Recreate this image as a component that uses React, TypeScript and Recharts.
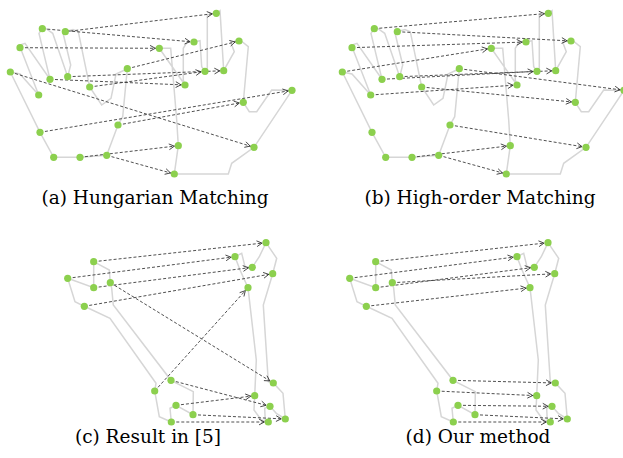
import { ScatterChart, Scatter, XAxis, YAxis } from "recharts";

type Pt = [number, number];

// top row: the same two hands in (a) and (b), only the matching differs
const topSource: Pt[] = [
  [42.3, 28.7], [65.3, 31.7], [20, 47.7], [10.3, 72], [50, 79.3], [67.7, 76.7], [38.7, 95],
  [89.7, 87], [127.3, 68.7], [118, 125], [40, 132.3], [53.7, 157.3], [80, 157.3], [106.7, 155.3],
];
const topTarget: Pt[] = [
  [216.3, 13.3], [194, 42], [159.3, 48.3], [239, 41], [205, 71.3], [223.7, 70.7],
  [185, 85], [292, 90.3], [243.3, 102.3], [178.3, 145.7], [254, 147.3], [174.3, 174],
];
const topSourceOutline: Pt[] = [
  [10.3, 72], [40, 132.3], [53.7, 157.3], [80, 157.3], [106.7, 155.3], [118, 125], [122.7, 116.7],
  [127.3, 68.7], [116, 74], [111, 98.3], [101.7, 105], [89.7, 87], [78.3, 31.7], [73, 29.5],
  [65.3, 31.7], [63.5, 35], [70.7, 65], [67.7, 76.7], [52.7, 33.3], [45, 28], [42.3, 28.7],
  [39, 33.3], [50, 79.3], [25, 43.3], [20, 45], [20, 47.7], [22, 52], [38.7, 95], [20, 74], [10.3, 72],
];
const topTargetOutline: Pt[] = [
  [159.3, 48.3], [170.7, 48.3], [176.7, 120], [178.3, 145.7], [174.3, 174], [228.3, 174],
  [231.7, 163.3], [254, 147.3], [292, 90.3], [271.7, 90], [256.7, 111.7], [249.3, 111.7],
  [243.3, 102.3], [248.3, 46.7], [240, 40], [230.7, 42.3], [234.3, 51.7], [223.7, 70.7],
  [220, 10.7], [216.3, 13.3], [207.3, 15], [207.3, 68.3], [205, 71.3], [201.7, 66.7],
  [200, 40.7], [194, 42], [187.3, 41.7], [183.3, 48.3], [183.3, 80], [185, 85], [159.3, 48.3],
];

// bottom row
const bottomSource: Pt[] = [
  [93.7, 261.7], [67.7, 278.3], [93.7, 287.7], [110.3, 282.7], [84.3, 306.3],
  [154.7, 391], [171, 380.3], [176, 405.3], [193, 414.7], [171.3, 422],
];
const bottomTarget: Pt[] = [
  [266, 242.7], [235, 256.7], [252.3, 267.3], [272.7, 273.7], [248, 287.7],
  [273.3, 383], [254.7, 395.7], [270, 406.3], [285.3, 419], [268.3, 422],
];
const bottomSourceOutline: Pt[] = [
  [67.7, 278.3], [75, 301.7], [84.3, 306.3], [110, 318.3], [156, 383.3], [154.7, 391],
  [159.3, 416.7], [171.3, 422], [170, 408.3], [176, 405.3], [193, 414.7], [193.3, 391.7],
  [171, 380.3], [113.3, 305], [111.7, 288.3], [110.3, 282.7], [109.3, 270], [93.7, 261.7],
  [93.7, 287.7], [67.7, 278.3],
];
const bottomTargetOutline: Pt[] = [
  [235, 256.7], [241.7, 253.3], [245, 266.7], [252.3, 267.3], [259.3, 256.7], [266, 242.7],
  [276.7, 258.3], [272.7, 273.7], [263.3, 305], [268.3, 381.7], [273.3, 383], [283, 393.3],
  [285.3, 419], [276.3, 413.3], [270, 406.3], [264.7, 408.3], [265.3, 421.7], [268.3, 422],
  [261.3, 420], [254, 410], [254.7, 395.7], [256.3, 360], [248, 287.7], [240, 270], [235, 256.7],
];

// [source index, target index]
const matchA: Pt[] = [[0, 1], [1, 0], [2, 2], [3, 10], [4, 6], [5, 5], [7, 4], [8, 3], [9, 8], [10, 7], [12, 9], [13, 11]];
const matchB: Pt[] = [[0, 0], [1, 3], [2, 1], [3, 2], [4, 4], [5, 5], [6, 6], [7, 8], [8, 7], [9, 10], [12, 9], [13, 11]];
const matchC: Pt[] = [[0, 0], [1, 1], [2, 2], [3, 5], [4, 3], [5, 4], [6, 7], [7, 6], [8, 8], [9, 9]];
const matchD: Pt[] = [[0, 0], [1, 1], [2, 2], [3, 3], [4, 4], [5, 6], [6, 5], [7, 7], [8, 8], [9, 9]];

const captions = ["(a) Hungarian Matching", "(b) High-order Matching", "(c) Result in [5]", "(d) Our method"];

const xy = (p: Pt) => ({ x: p[0], y: p[1] });

function ArrowHead(props: any) {
  const { cx, cy, payload } = props;
  if (payload == null || payload.fromX === undefined) return <g />;
  // 1 unit = 1 px on both axes, so the data direction is the pixel direction
  const ang = Math.atan2(payload.y - payload.fromY, payload.x - payload.fromX);
  const tx = cx - 4 * Math.cos(ang);
  const ty = cy - 4 * Math.sin(ang);
  const w1 = [tx - 6 * Math.cos(ang - 0.5), ty - 6 * Math.sin(ang - 0.5)];
  const w2 = [tx - 6 * Math.cos(ang + 0.5), ty - 6 * Math.sin(ang + 0.5)];
  return (
    <polyline
      points={`${w1[0]},${w1[1]} ${tx},${ty} ${w2[0]},${w2[1]}`}
      fill="none"
      stroke="#333"
      strokeWidth={0.9}
    />
  );
}

const Dot = (p: any) => <circle cx={p.cx} cy={p.cy} r={3.6} fill="#8cd04e" />;

type PanelProps = {
  source: Pt[];
  target: Pt[];
  outlines: Pt[][];
  matches: Pt[];
  left: number;
  top: number;
  width: number;
  height: number;
};

function Panel({ source, target, outlines, matches, left, top, width, height }: PanelProps) {
  return (
    <div style={{ position: "absolute", left, top }}>
      <ScatterChart width={width} height={height} margin={{ top: 0, right: 0, bottom: 0, left: 0 }}>
        <XAxis type="number" dataKey="x" domain={[0, width]} hide allowDataOverflow />
        <YAxis type="number" dataKey="y" domain={[top, top + height]} reversed hide allowDataOverflow />
        {outlines.map((o, i) => (
          <Scatter
            key={`o${i}`}
            data={o.map(xy)}
            line={{ stroke: "#d6d6d6", strokeWidth: 1.5 }}
            shape={() => <g />}
            isAnimationActive={false}
          />
        ))}
        {matches.map(([s, t], i) => {
          const a = source[s];
          const b = target[t];
          const data = [
            { x: a[0], y: a[1] },
            { x: b[0], y: b[1], fromX: a[0], fromY: a[1] },
          ];
          return (
            <Scatter
              key={`m${i}`}
              data={data}
              line={{ stroke: "#3c3c3c", strokeWidth: 0.9, strokeDasharray: "3 2" }}
              shape={ArrowHead}
              isAnimationActive={false}
            />
          );
        })}
        <Scatter data={[...source, ...target].map(xy)} shape={Dot} isAnimationActive={false} />
      </ScatterChart>
    </div>
  );
}

const captionPos = [
  [155, 198],
  [480, 198],
  [148, 437],
  [478, 437],
];

export default function App() {
  const topOutlines = [topSourceOutline, topTargetOutline];
  const bottomOutlines = [bottomSourceOutline, bottomTargetOutline];
  return (
    <div
      style={{
        position: "absolute",
        left: 0,
        top: 0,
        width: 623,
        height: 458,
        overflow: "hidden",
        background: "#fff",
      }}
    >
      <Panel source={topSource} target={topTarget} outlines={topOutlines} matches={matchA} left={0} top={0} width={332} height={190} />
      <Panel source={topSource} target={topTarget} outlines={topOutlines} matches={matchB} left={332} top={0} width={332} height={190} />
      <Panel source={bottomSource} target={bottomTarget} outlines={bottomOutlines} matches={matchC} left={0} top={225} width={300} height={210} />
      <Panel source={bottomSource} target={bottomTarget} outlines={bottomOutlines} matches={matchD} left={282} top={225} width={300} height={210} />
      {captions.map((c, i) => (
        <div
          key={c}
          style={{
            position: "absolute",
            left: captionPos[i][0] - 150,
            top: captionPos[i][1] - 11,
            width: 300,
            textAlign: "center",
            fontFamily: "'DejaVu Serif', serif",
            fontSize: 18.5,
            lineHeight: "22px",
            color: "#000",
          }}
        >
          {c}
        </div>
      ))}
    </div>
  );
}
